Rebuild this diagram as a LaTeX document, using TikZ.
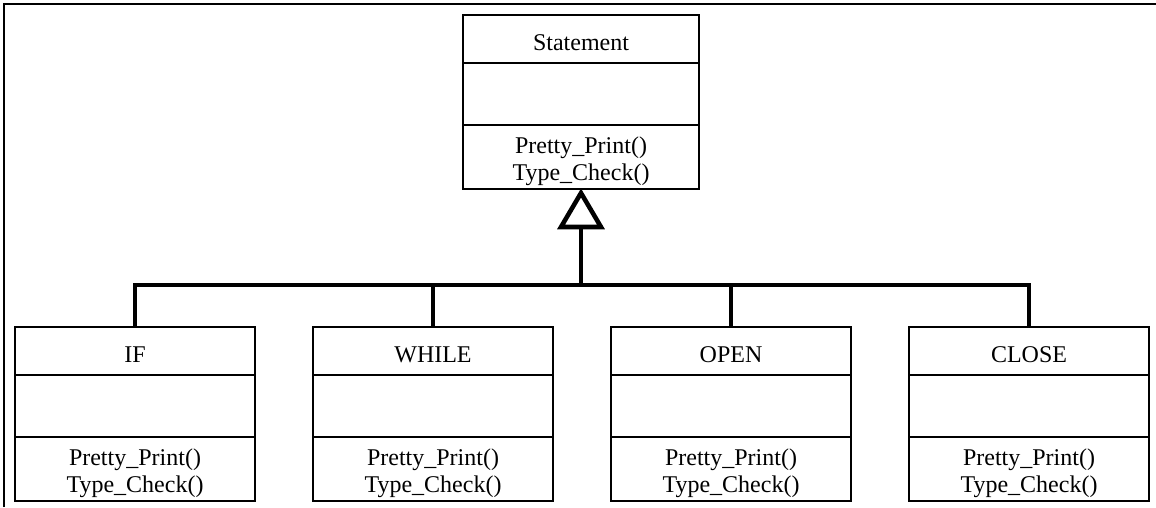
\documentclass[tikz,border=0pt]{standalone}
\usepackage{fontspec}
\setmainfont{Liberation Serif}
\usetikzlibrary{calc}
\tikzset{
  classbox/.style={draw, line width=1.5pt, minimum height=130.5pt, inner sep=0pt, outer sep=0pt},
  divider/.style={line width=1.5pt},
  txt/.style={anchor=base, inner sep=0pt, font=\fontsize{18}{20}\selectfont},
  genline/.style={line width=3.4pt, line join=miter},
  frameline/.style={line width=2pt, line join=miter},
}
\newcommand\umlclass[5]{% name, x, y, width, title
  \node[classbox, minimum width=#4] (#1) at (#2,#3) {};
  \draw[divider] ($(#1.north west)+(0,47.5)$) -- ($(#1.north east)+(0,47.5)$);
  \draw[divider] ($(#1.north west)+(0,110)$) -- ($(#1.north east)+(0,110)$);
  \node[txt] (#1-title) at ($(#1.north)+(0,35)$) {#5};
  \node[txt] (#1-m1) at ($(#1.north)+(0,138)$) {Pretty\_Print()};
  \node[txt] (#1-m2) at ($(#1.north)+(0,165)$) {Type\_Check()};
}
\begin{document}
\begin{tikzpicture}[x=0.75pt, y=-0.75pt]
  \useasboundingbox (0,0) rectangle (1156,507);
  % open frame (top and left edges)
  \draw[frameline] (4,507) -- (4,4) -- (1156,4);
  % classes
  \umlclass{statement}{581}{102}{177pt}{Statement}
  \umlclass{if}{135}{414}{180pt}{IF}
  \umlclass{while}{433}{414}{180pt}{WHILE}
  \umlclass{open}{731}{414}{180pt}{OPEN}
  \umlclass{close}{1029}{414}{180pt}{CLOSE}
  % generalization triangle
  \coordinate (tri-apex) at ($(statement.south)+(0,4)$);
  \coordinate (tri-base) at ($(statement.south)+(0,38)$);
  \draw[genline] (tri-apex) -- ($(tri-base)+(-20,0)$) -- ($(tri-base)+(20,0)$) -- cycle;
  \coordinate (hub) at ($(statement.south)+(0,96)$);
  \draw[genline] (tri-base) -- (hub);
  \draw[genline] (if.north) |- (hub);
  \draw[genline] (while.north) |- (hub);
  \draw[genline] (open.north) |- (hub);
  \draw[genline] (close.north) |- (hub);
\end{tikzpicture}
\end{document}
